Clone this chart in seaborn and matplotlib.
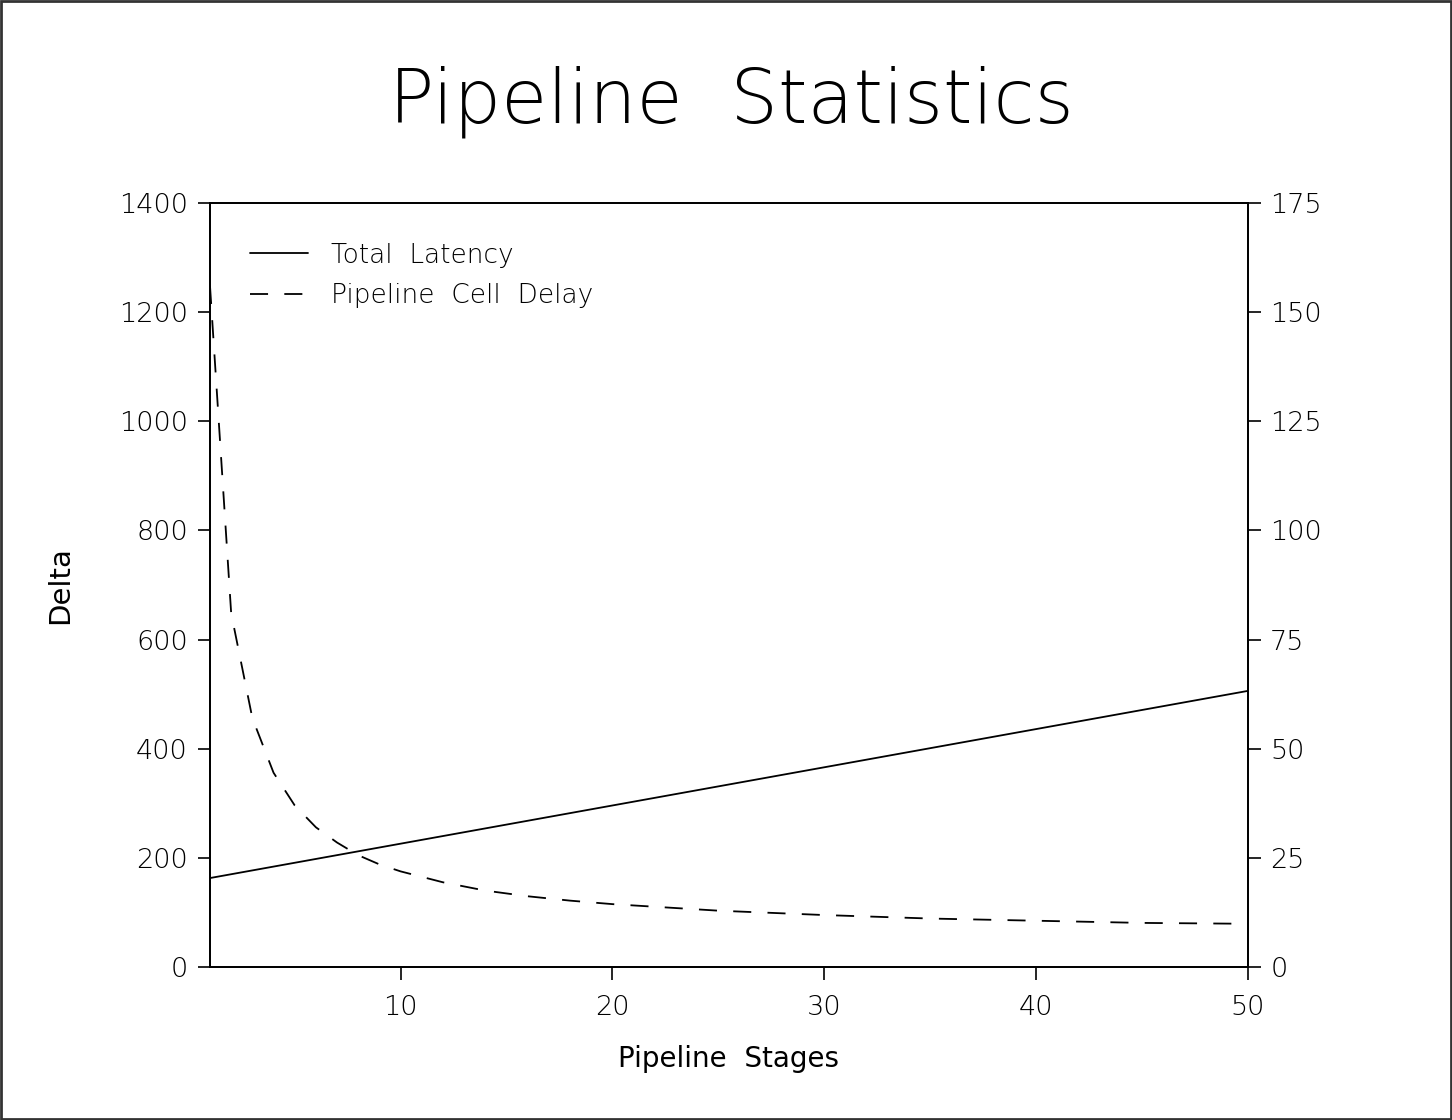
import matplotlib
matplotlib.use("Agg")
import matplotlib.pyplot as plt
import seaborn as sns
import pandas as pd
from matplotlib.lines import Line2D
from matplotlib.patches import Rectangle

# values
stages_latency = [1, 10, 20, 30, 40, 50]
total_latency = [163, 226, 296, 366, 436, 506]          # left axis (Delta)

stages_delay = [1, 2, 3, 4, 5, 6, 7, 8, 9, 10, 12, 14, 16, 18, 20,
                25, 30, 35, 40, 45, 50]
cell_delay = [156, 81, 57, 44.5, 37, 32, 28.5, 25.6, 23.5, 21.9, 19.4,
              17.5, 16.2, 15.2, 14.4, 12.9, 11.9, 11.1, 10.6, 10.1, 9.9]  # right axis

x_ticks = [10, 20, 30, 40, 50]
left_ticks = [0, 200, 400, 600, 800, 1000, 1200, 1400]
right_ticks = [0, 25, 50, 75, 100, 125, 150, 175]

sns.set_theme(style="ticks")
plt.rcParams["font.family"] = ["DejaVu Sans"]
plt.rcParams["font.weight"] = "light"
plt.rcParams["text.color"] = "black"
plt.rcParams["axes.labelcolor"] = "black"

fig = plt.figure(figsize=(14.52, 11.2), dpi=100)
ax = fig.add_axes([210 / 1452, 1 - 967 / 1120, (1248 - 210) / 1452, (967 - 203) / 1120])
ax2 = ax.twinx()

df_lat = pd.DataFrame({"stages": stages_latency, "latency": total_latency})
df_del = pd.DataFrame({"stages": stages_delay, "delay": cell_delay})

sns.lineplot(data=df_lat, x="stages", y="latency", ax=ax, color="black", lw=1.3)
sns.lineplot(data=df_del, x="stages", y="delay", ax=ax2, color="black", lw=1.3,
             dashes=False)
ax2.lines[0].set_dashes([10, 9])

ax.set_xlim(1, 50)
ax.set_ylim(0, 1400)
ax2.set_ylim(0, 175)
ax.set_xticks(x_ticks)
ax.set_yticks(left_ticks)
ax2.set_yticks(right_ticks)

for a in (ax, ax2):
    for s in a.spines.values():
        s.set_linewidth(1.3)
        s.set_color("black")
    a.tick_params(direction="out", length=9, width=1.2, labelsize=19.5,
                  pad=7, colors="black")
    a.grid(False)
ax.tick_params(axis="x", pad=11)

ax.set_xlabel("Pipeline  Stages", fontsize=20, labelpad=18)
ax.set_ylabel("Delta", fontsize=21, labelpad=32)
ax2.set_ylabel("")

fig.text(0.504, 0.909, "Pipeline  Statistics", ha="center", va="center",
         fontsize=54, fontweight="light", color="black")

handles = [Line2D([], [], color="black", lw=1.3),
           Line2D([], [], color="black", lw=1.3, dashes=[10, 9])]
leg = ax.legend(handles, ["Total  Latency", "Pipeline  Cell  Delay"],
                loc="upper left", frameon=False, fontsize=19,
                handlelength=2.2, handletextpad=0.9, labelspacing=0.6,
                borderaxespad=1.1)
for t in leg.get_texts():
    t.set_color("black")

fig.patches.append(Rectangle((0.001, 0.001), 0.998, 0.998, transform=fig.transFigure,
                             fill=False, edgecolor="#333333", lw=2))

fig.savefig("out.png", dpi=100, facecolor="white")
